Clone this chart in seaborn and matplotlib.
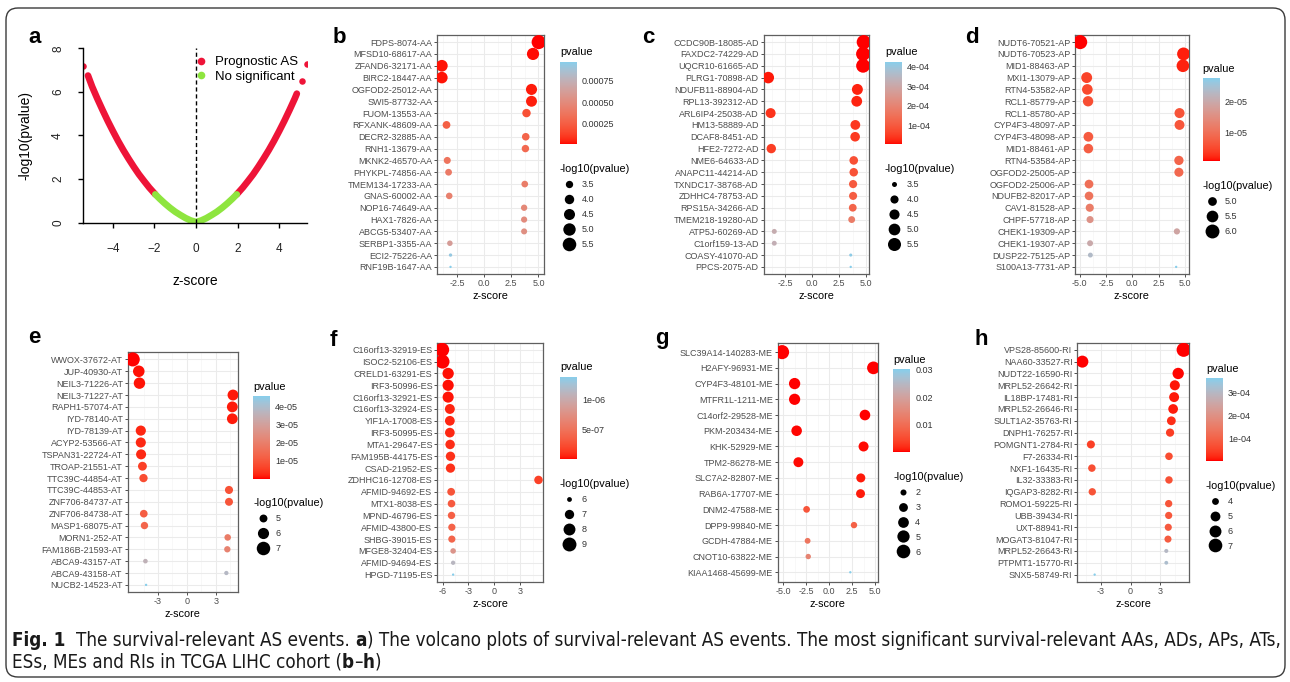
import numpy as np
import pandas as pd
import matplotlib
matplotlib.use("Agg")
import matplotlib.pyplot as plt
import seaborn as sns
from matplotlib.colors import ListedColormap, Normalize
from matplotlib.cm import ScalarMappable
from matplotlib.lines import Line2D
from matplotlib.patches import FancyBboxPatch
from matplotlib.ticker import FixedLocator, FuncFormatter

# ---------------- data: panel a (volcano) ----------------
volc_left_z = [-5.2, -5.0, -4.75, -4.5, -4.25, -4.0, -3.75, -3.5, -3.25, -3.0, -2.75, -2.5, -2.25, -1.96]
volc_left_y = [6.75, 6.24, 5.69, 5.17, 4.67, 4.20, 3.75, 3.33, 2.94, 2.57, 2.22, 1.91, 1.61, 1.30]
volc_mid_z = [-1.96, -1.75, -1.5, -1.25, -1.0, -0.75, -0.5, -0.25, 0.0, 0.25, 0.5, 0.75, 1.0, 1.25, 1.5, 1.75, 1.96]
volc_mid_y = [1.30, 1.10, 0.88, 0.68, 0.50, 0.35, 0.21, 0.10, 0.03, 0.10, 0.21, 0.35, 0.50, 0.68, 0.88, 1.10, 1.30]
volc_right_z = [1.96, 2.25, 2.5, 2.75, 3.0, 3.25, 3.5, 3.75, 4.0, 4.25, 4.5, 4.75, 4.85]
volc_right_y = [1.30, 1.61, 1.91, 2.22, 2.57, 2.94, 3.33, 3.75, 4.20, 4.67, 5.17, 5.69, 5.92]
volc_iso_z = [-5.44, 5.1, 5.34]
volc_iso_y = [7.2, 6.48, 7.3]

# ---------------- data: panels b-h ----------------
b_events = ["FDPS-8074-AA", "MFSD10-68617-AA", "ZFAND6-32171-AA", "BIRC2-18447-AA", "OGFOD2-25012-AA",
            "SWI5-87732-AA", "FUOM-13553-AA", "RFXANK-48609-AA", "DECR2-32885-AA", "RNH1-13679-AA",
            "MKNK2-46570-AA", "PHYKPL-74856-AA", "TMEM134-17233-AA", "GNAS-60002-AA", "NOP16-74649-AA",
            "HAX1-7826-AA", "ABCG5-53407-AA", "SERBP1-3355-AA", "ECI2-75226-AA", "RNF19B-1647-AA"]
b_z = [5.02, 4.5, -3.9, -3.9, 4.36, 4.36, 3.9, -3.47, 3.83, 3.8,
       -3.4, -3.28, 3.74, -3.22, 3.68, 3.68, 3.68, -3.16, -3.1, -3.1]
b_neglog = [5.74, 4.92, 4.74, 4.70, 4.52, 4.47, 3.74, 3.59, 3.55, 3.52,
            3.44, 3.40, 3.38, 3.36, 3.32, 3.30, 3.28, 3.21, 3.03, 3.01]

c_events = ["CCDC90B-18085-AD", "FAXDC2-74229-AD", "UQCR10-61665-AD", "PLRG1-70898-AD", "NDUFB11-88904-AD",
            "RPL13-392312-AD", "ARL6IP4-25038-AD", "HM13-58889-AD", "DCAF8-8451-AD", "HFE2-7272-AD",
            "NME6-64633-AD", "ANAPC11-44214-AD", "TXNDC17-38768-AD", "ZDHHC4-78753-AD", "RPS15A-34266-AD",
            "TMEM218-19280-AD", "ATP5J-60269-AD", "C1orf159-13-AD", "COASY-41070-AD", "PPCS-2075-AD"]
c_z = [4.78, 4.72, 4.72, -4.1, 4.19, 4.13, -3.88, 4.0, 3.98, -3.82,
       3.85, 3.85, 3.79, 3.79, 3.76, 3.66, -3.54, -3.54, 3.57, 3.57]
c_neglog = [5.95, 5.9, 5.85, 4.95, 4.75, 4.7, 4.45, 4.4, 4.35, 4.3,
            4.1, 4.08, 4.0, 3.98, 3.92, 3.75, 3.5, 3.49, 3.38, 3.37]

d_events = ["NUDT6-70521-AP", "NUDT6-70523-AP", "MID1-88463-AP", "MXI1-13079-AP", "RTN4-53582-AP",
            "RCL1-85779-AP", "RCL1-85780-AP", "CYP4F3-48097-AP", "CYP4F3-48098-AP", "MID1-88461-AP",
            "RTN4-53584-AP", "OGFOD2-25005-AP", "OGFOD2-25006-AP", "NDUFB2-82017-AP", "CAV1-81528-AP",
            "CHPF-57718-AP", "CHEK1-19309-AP", "CHEK1-19307-AP", "DUSP22-75125-AP", "S100A13-7731-AP"]
d_z = [-4.95, 4.87, 4.81, -4.33, -4.27, -4.2, 4.49, 4.49, -4.17, -4.17,
       4.43, 4.43, -4.11, -4.11, -4.04, -4.01, 4.24, -4.01, -3.98, 4.17]
d_neglog = [6.05, 5.75, 5.7, 5.35, 5.3, 5.25, 5.2, 5.18, 5.15, 5.12,
            5.08, 5.05, 5.0, 4.98, 4.92, 4.8, 4.72, 4.7, 4.63, 4.56]

e_events = ["WWOX-37672-AT", "JUP-40930-AT", "NEIL3-71226-AT", "NEIL3-71227-AT", "RAPH1-57074-AT",
            "IYD-78140-AT", "IYD-78139-AT", "ACYP2-53566-AT", "TSPAN31-22724-AT", "TROAP-21551-AT",
            "TTC39C-44854-AT", "TTC39C-44853-AT", "ZNF706-84737-AT", "ZNF706-84738-AT", "MASP1-68075-AT",
            "MORN1-252-AT", "FAM186B-21593-AT", "ABCA9-43157-AT", "ABCA9-43158-AT", "NUCB2-14523-AT"]
e_z = [-5.63, -5.0, -4.93, 4.79, 4.72, 4.72, -4.79, -4.79, -4.76, -4.62,
       -4.51, 4.375, 4.375, -4.48, -4.41, 4.24, 4.2, -4.31, 4.1, -4.24]
e_neglog = [7.3, 6.15, 6.1, 5.9, 5.88, 5.85, 5.65, 5.62, 5.6, 5.25,
            5.1, 5.05, 5.02, 4.95, 4.88, 4.72, 4.68, 4.45, 4.42, 4.34]

f_events = ["C16orf13-32919-ES", "ISOC2-52106-ES", "CRELD1-63291-ES", "IRF3-50996-ES", "C16orf13-32921-ES",
            "C16orf13-32924-ES", "YIF1A-17008-ES", "IRF3-50995-ES", "MTA1-29647-ES", "FAM195B-44175-ES",
            "CSAD-21952-ES", "ZDHHC16-12708-ES", "AFMID-94692-ES", "MTX1-8038-ES", "MPND-46796-ES",
            "AFMID-43800-ES", "SHBG-39015-ES", "MFGE8-32404-ES", "AFMID-94694-ES", "HPGD-71195-ES"]
f_z = [-6.05, -6.0, -5.35, -5.35, -5.35, -5.15, -5.15, -5.15, -5.12, -5.08,
       -5.08, 5.15, -5.0, -4.96, -4.96, -4.92, -4.92, -4.77, -4.77, -4.77]
f_neglog = [9.1, 9.0, 7.74, 7.7, 7.65, 7.2, 7.15, 7.12, 7.05, 7.0,
            6.98, 6.75, 6.55, 6.5, 6.45, 6.42, 6.4, 6.1, 5.95, 5.86]

g_events = ["SLC39A14-140283-ME", "H2AFY-96931-ME", "CYP4F3-48101-ME", "MTFR1L-1211-ME", "C14orf2-29528-ME",
            "PKM-203434-ME", "KHK-52929-ME", "TPM2-86278-ME", "SLC7A2-82807-ME", "RAB6A-17707-ME",
            "DNM2-47588-ME", "DPP9-99840-ME", "GCDH-47884-ME", "CNOT10-63822-ME", "KIAA1468-45699-ME"]
g_z = [-5.1, 4.81, -3.74, -3.74, 3.89, -3.52, 3.74, -3.33, 3.44, 3.41, -2.44, 2.7, -2.33, -2.26, 2.3]
g_neglog = [6.4, 5.3, 4.35, 4.3, 3.95, 3.9, 3.6, 3.55, 3.1, 3.05, 2.2, 2.1, 1.95, 1.85, 1.52]

h_events = ["VPS28-85600-RI", "NAA60-33527-RI", "NUDT22-16590-RI", "MRPL52-26642-RI", "IL18BP-17481-RI",
            "MRPL52-26646-RI", "SULT1A2-35763-RI", "DNPH1-76257-RI", "POMGNT1-2784-RI", "F7-26334-RI",
            "NXF1-16435-RI", "IL32-33383-RI", "IQGAP3-8282-RI", "ROMO1-59225-RI", "UBB-39434-RI",
            "UXT-88941-RI", "MOGAT3-81047-RI", "MRPL52-26643-RI", "PTPMT1-15770-RI", "SNX5-58749-RI"]
h_z = [5.35, -4.87, 4.8, 4.46, 4.39, 4.29, 4.11, 3.98, -4.01, 3.87,
       -3.91, 3.87, -3.87, 3.84, 3.84, 3.8, 3.77, 3.6, 3.6, -3.63]
h_neglog = [7.3, 6.05, 5.7, 5.1, 5.05, 4.95, 4.6, 4.4, 4.35, 4.2,
            4.18, 4.16, 4.14, 4.12, 4.1, 4.08, 4.06, 3.52, 3.5, 3.44]

# tick / legend labels
b_cb_ticks, b_cb_labels = [0.00025, 0.0005, 0.00075], ["0.00025", "0.00050", "0.00075"]
c_cb_ticks, c_cb_labels = [1e-4, 2e-4, 3e-4, 4e-4], ["1e-04", "2e-04", "3e-04", "4e-04"]
d_cb_ticks, d_cb_labels = [1e-5, 2e-5], ["1e-05", "2e-05"]
e_cb_ticks, e_cb_labels = [1e-5, 2e-5, 3e-5, 4e-5], ["1e-05", "2e-05", "3e-05", "4e-05"]
f_cb_ticks, f_cb_labels = [5e-7, 1e-6], ["5e-07", "1e-06"]
g_cb_ticks, g_cb_labels = [0.01, 0.02, 0.03], ["0.01", "0.02", "0.03"]
h_cb_ticks, h_cb_labels = [1e-4, 2e-4, 3e-4], ["1e-04", "2e-04", "3e-04"]

b_breaks, b_break_labels = [3.5, 4.0, 4.5, 5.0, 5.5], ["3.5", "4.0", "4.5", "5.0", "5.5"]
c_breaks, c_break_labels = [3.5, 4.0, 4.5, 5.0, 5.5], ["3.5", "4.0", "4.5", "5.0", "5.5"]
d_breaks, d_break_labels = [5.0, 5.5, 6.0], ["5.0", "5.5", "6.0"]
e_breaks, e_break_labels = [5, 6, 7], ["5", "6", "7"]
f_breaks, f_break_labels = [6, 7, 8, 9], ["6", "7", "8", "9"]
g_breaks, g_break_labels = [2, 3, 4, 5, 6], ["2", "3", "4", "5", "6"]
h_breaks, h_break_labels = [4, 5, 6, 7], ["4", "5", "6", "7"]

# ---------------- style ----------------
sns.set_theme(style="white")
plt.rcParams["font.family"] = ["Liberation Sans", "DejaVu Sans"]
plt.rcParams["axes.unicode_minus"] = True
plt.rcParams["text.color"] = "black"
plt.rcParams["axes.labelcolor"] = "black"

W, H = 1290, 682
fig = plt.figure(figsize=(W / 100, H / 100), dpi=100)
fig.patch.set_facecolor("white")


def frect(l, t, r, b):
    return [l / W, 1 - b / H, (r - l) / W, (b - t) / H]


# ggplot-like red -> skyblue gradient interpolated in CIELAB
_M = np.array([[0.4124564, 0.3575761, 0.1804375],
               [0.2126729, 0.7151522, 0.0721750],
               [0.0193339, 0.1191920, 0.9503041]])
_WP = _M @ np.ones(3)


def _to_lab(hexc):
    c = np.array(matplotlib.colors.to_rgb(hexc))
    lin = np.where(c <= 0.04045, c / 12.92, ((c + 0.055) / 1.055) ** 2.4)
    t = (_M @ lin) / _WP
    f = np.where(t > (6 / 29) ** 3, np.cbrt(t), t / (3 * (6 / 29) ** 2) + 4 / 29)
    return np.array([116 * f[1] - 16, 500 * (f[0] - f[1]), 200 * (f[1] - f[2])])


def _from_lab(lab):
    fy = (lab[:, 0] + 16) / 116
    f = np.stack([fy + lab[:, 1] / 500, fy, fy - lab[:, 2] / 200], axis=-1)
    d = 6 / 29
    t = np.where(f > d, f ** 3, 3 * d * d * (f - 4 / 29))
    lin = np.clip((t * _WP) @ np.linalg.inv(_M).T, 0, 1)
    return np.clip(np.where(lin <= 0.0031308, 12.92 * lin, 1.055 * lin ** (1 / 2.4) - 0.055), 0, 1)


_ts = np.linspace(0, 1, 256)[:, None]
CMAP = ListedColormap(_from_lab(_to_lab("#FF0000") * (1 - _ts) + _to_lab("#87CEEB") * _ts))

K_PT = 2.35 * 0.72
AMIN, AMAX = (K_PT * 1) ** 2, (K_PT * 6) ** 2


def area_of(v, lo, hi):
    t = np.clip((np.asarray(v, float) - lo) / (hi - lo), 0, 1)
    return (K_PT * (1 + 5 * np.sqrt(t))) ** 2


TICK_C = "#4D4D4D"


def dot_panel(events, z, neglog, box, cb_lt, cb_ticks, cb_labels, breaks, break_labels, xticks, xfmt):
    df = pd.DataFrame({"event": events, "z": z, "neglog": neglog})
    df["pvalue"] = 10.0 ** (-df["neglog"])
    lo, hi = df["neglog"].min(), df["neglog"].max()
    df["area"] = area_of(df["neglog"], lo, hi)
    pnorm = (df["pvalue"].min(), df["pvalue"].max())

    ax = fig.add_axes(frect(*box))
    sns.scatterplot(data=df, x="z", y="event", hue="pvalue", palette=CMAP, hue_norm=pnorm,
                    size="area", sizes=(AMIN, AMAX), size_norm=(AMIN, AMAX),
                    linewidth=0, legend=False, ax=ax, zorder=3)
    n = len(df)
    ax.set_ylim(n - 0.4, -0.6)
    zmin, zmax = df["z"].min(), df["z"].max()
    pad = 0.05 * (zmax - zmin)
    ax.set_xlim(zmin - pad, zmax + pad)
    ax.xaxis.set_major_locator(FixedLocator(xticks))
    ax.xaxis.set_major_formatter(FuncFormatter(lambda v, p, f=xfmt: f % v))
    step = xticks[1] - xticks[0]
    ax.xaxis.set_minor_locator(FixedLocator([xticks[0] - step / 2] + [t + step / 2 for t in xticks]))
    ax.grid(True, which="major", color="#EBEBEB", lw=0.75)
    ax.grid(True, which="minor", axis="x", color="#F4F4F4", lw=0.45)
    ax.set_axisbelow(True)
    for sp in ax.spines.values():
        sp.set_visible(True)
        sp.set_color("#5f5f5f")
        sp.set_linewidth(0.9)
    ax.tick_params(axis="both", which="major", direction="out", length=2.3, width=0.6, color="#333333",
                   labelsize=6.5, labelcolor=TICK_C, pad=1.2, bottom=True, left=True)
    ax.tick_params(which="minor", length=0)
    ax.set_xlabel("z-score", fontsize=7.8, color="black", labelpad=2.5)
    ax.set_ylabel("")

    # colourbar legend
    cbL, cbT = cb_lt
    cax = fig.add_axes(frect(cbL, cbT, cbL + 17, cbT + 82.5))
    cb = fig.colorbar(ScalarMappable(norm=Normalize(*pnorm), cmap=CMAP), cax=cax)
    cb.outline.set_visible(False)
    cb.set_ticks(cb_ticks, labels=cb_labels)
    cax.minorticks_off()
    cax.tick_params(axis="y", which="major", direction="in", length=3.4, width=0.6, color="white",
                    left=True, right=True, labelleft=False, labelright=True, labelsize=6.5,
                    labelcolor="#333333", pad=3.6)
    cax.set_title("pvalue", loc="left", fontsize=7.8, pad=4.5)

    # size legend
    handles = [Line2D([], [], ls="", marker="o", color="black", markeredgewidth=0,
                      markersize=float(np.sqrt(area_of(b, lo, hi)))) for b in breaks]
    top = cbT + 82.5 + 26.5 - 6.5
    fig.legend(handles, break_labels, title="-log10(pvalue)", loc="upper left",
               bbox_to_anchor=(cbL / W, 1 - top / H), frameon=False, fontsize=6.5,
               title_fontsize=7.8, alignment="left", handlelength=2.1, handletextpad=0.33,
               labelspacing=0.66, borderpad=0, borderaxespad=0, labelcolor="#333333")
    return ax


# ---------------- panel a ----------------
RED_A, GREEN_A = "#ee1438", "#8ee53f"
vdf = pd.concat([
    pd.DataFrame({"z": volc_left_z, "y": volc_left_y, "group": "Prognostic AS", "segment": 0}),
    pd.DataFrame({"z": volc_mid_z, "y": volc_mid_y, "group": "No significant", "segment": 1}),
    pd.DataFrame({"z": volc_right_z, "y": volc_right_y, "group": "Prognostic AS", "segment": 2}),
], ignore_index=True)
axa = fig.add_axes(frect(83, 48.3, 307, 222.7))
sns.lineplot(data=vdf, x="z", y="y", hue="group", units="segment", estimator=None, sort=False,
             palette={"Prognostic AS": RED_A, "No significant": GREEN_A}, linewidth=4.8,
             solid_capstyle="round", legend=False, ax=axa)
sns.scatterplot(x=volc_iso_z, y=volc_iso_y, color=RED_A, s=22, linewidth=0, ax=axa, legend=False)
axa.axvline(0, color="black", lw=1.0, ls=(0, (3, 2)))
all_z = volc_left_z + volc_mid_z + volc_right_z + volc_iso_z
axa.set_xlim(min(all_z), max(all_z))
axa.set_ylim(0, 8)
axa.set_xticks([-4, -2, 0, 2, 4])
axa.set_yticks([0, 2, 4, 6, 8])
for s in ["top", "right"]:
    axa.spines[s].set_visible(False)
for s in ["left", "bottom"]:
    axa.spines[s].set_color("black")
    axa.spines[s].set_linewidth(1.0)
axa.tick_params(axis="both", direction="out", length=3.6, width=1.0, color="black",
                labelsize=8.5, labelcolor="#222222", bottom=True, left=True)
axa.tick_params(axis="x", pad=11)
axa.tick_params(axis="y", pad=10, labelrotation=90)
for lab in axa.get_yticklabels():
    lab.set_va("center")
axa.set_xlabel("z-score", fontsize=10, labelpad=14)
axa.set_ylabel("-log10(pvalue)", fontsize=10, labelpad=14)
axa.legend(handles=[Line2D([], [], ls="", marker="o", color=RED_A, ms=5.5, mew=0),
                    Line2D([], [], ls="", marker="o", color=GREEN_A, ms=5.5, mew=0)],
           labels=["Prognostic AS", "No significant"], loc="upper left",
           bbox_to_anchor=(195 / W, 1 - 56 / H), bbox_transform=fig.transFigure, frameon=False,
           fontsize=9.5, handlelength=0.9, handletextpad=0.6, labelspacing=0.2,
           borderpad=0, borderaxespad=0)

# ---------------- panels b-h ----------------
dot_panel(b_events, b_z, b_neglog, (437, 35, 543.5, 274), (560, 61.7), b_cb_ticks, b_cb_labels,
          b_breaks, b_break_labels, [-2.5, 0, 2.5, 5.0], "%.1f")
dot_panel(c_events, c_z, c_neglog, (763.5, 35, 868.5, 274), (885, 61.7), c_cb_ticks, c_cb_labels,
          c_breaks, c_break_labels, [-2.5, 0, 2.5, 5.0], "%.1f")
dot_panel(d_events, d_z, d_neglog, (1075, 35, 1188.7, 274), (1202.7, 78.3), d_cb_ticks, d_cb_labels,
          d_breaks, d_break_labels, [-5.0, -2.5, 0, 2.5, 5.0], "%.1f")
dot_panel(e_events, e_z, e_neglog, (127.7, 352.3, 238, 592), (253.3, 396), e_cb_ticks, e_cb_labels,
          e_breaks, e_break_labels, [-3, 0, 3], "%d")
dot_panel(f_events, f_z, f_neglog, (437.3, 342.7, 543.3, 581.7), (560, 376.7), f_cb_ticks, f_cb_labels,
          f_breaks, f_break_labels, [-6, -3, 0, 3], "%d")
dot_panel(g_events, g_z, g_neglog, (777.5, 342.7, 878, 581.7), (893.3, 369.3), g_cb_ticks, g_cb_labels,
          g_breaks, g_break_labels, [-5.0, -2.5, 0, 2.5, 5.0], "%.1f")
dot_panel(h_events, h_z, h_neglog, (1077.3, 342.7, 1188.7, 581.7), (1206, 378.3), h_cb_ticks, h_cb_labels,
          h_breaks, h_break_labels, [-3, 0, 3], "%d")

# ---------------- panel letters ----------------
for letter, (lx, ly) in {"a": (28, 43), "b": (333, 43), "c": (642, 43), "d": (965, 43),
                         "e": (28, 343), "f": (330, 346), "g": (655, 344), "h": (975, 345)}.items():
    fig.text(lx / W, 1 - ly / H, letter, fontsize=16, fontweight="bold", ha="left", va="baseline")

# ---------------- frame ----------------
ov = fig.add_axes([0, 0, 1, 1], zorder=-5)
ov.set_xlim(0, W)
ov.set_ylim(H, 0)
ov.axis("off")
ov.add_patch(FancyBboxPatch((6, 8), 1279, 669, boxstyle="round,pad=0,rounding_size=12",
                            fc="none", ec="#3a3a3a", lw=1.0))

# ---------------- caption ----------------
CAP_FONT = ["DejaVu Sans"]
CAP_STRETCH = "condensed"
renderer = fig.canvas.get_renderer()


def _w(s, size, bold):
    t = fig.text(0, 0, s, fontsize=size, fontweight="bold" if bold else "normal", family=CAP_FONT,
                 fontstretch=CAP_STRETCH)
    w = t.get_window_extent(renderer=renderer).width
    t.remove()
    return w


cap_line1 = [("Fig. 1", True, 2), ("The survival-relevant AS events.", False, 1), ("a", True, 0),
             (") The volcano plots of survival-relevant AS events. The most significant survival-relevant AAs, ADs, APs, ATs,", False, 0)]
cap_line2 = [("ESs, MEs and RIs in TCGA LIHC cohort (", False, 0), ("b", True, 0), ("\u2013", False, 0),
             ("h", True, 0), (")", False, 0)]


def line_width(runs, size):
    sp = _w("a a", size, False) - _w("aa", size, False)
    return sum(_w(t, size, b) + n * sp for t, b, n in runs)


cap_size = 12 * 1271 / line_width(cap_line1, 12)


def draw_runs(runs, x0, ybase, size):
    sp = _w("a a", size, False) - _w("aa", size, False)
    x = x0
    for t, b, n in runs:
        txt = fig.text(x / W, 1 - ybase / H, t, fontsize=size, fontweight="bold" if b else "normal",
                       family=CAP_FONT, fontstretch=CAP_STRETCH, ha="left", va="baseline", color="#1a1a1a")
        x += txt.get_window_extent(renderer=renderer).width + n * sp


draw_runs(cap_line1, 12, 646, cap_size)
draw_runs(cap_line2, 12, 668, cap_size)

fig.savefig("out.png", dpi=100, facecolor="white")
